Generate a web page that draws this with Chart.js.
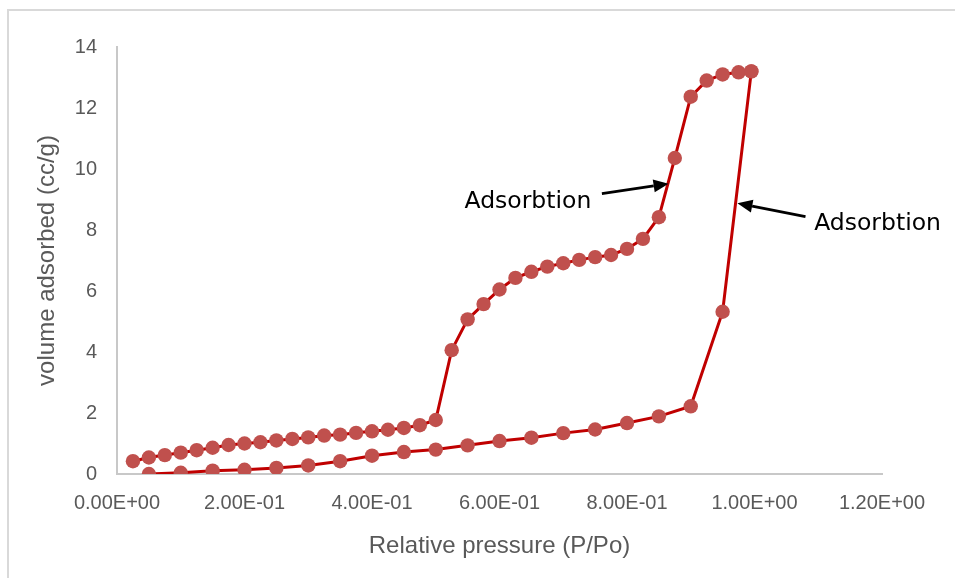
<!DOCTYPE html>
<html>
<head>
<meta charset="utf-8">
<script src="https://cdn.jsdelivr.net/npm/chart.js@4.4.1/dist/chart.umd.min.js"></script>
<style>
  html, body { margin: 0; padding: 0; background: #ffffff; }
  #wrap { width: 955px; height: 578px; }
</style>
</head>
<body>
<div id="wrap"><canvas id="c" width="955" height="578"></canvas></div>
<script>
// ---- data ----
const adsorptionX = [0.05, 0.10, 0.15, 0.20, 0.25, 0.30, 0.35, 0.40, 0.45, 0.50,
                     0.55, 0.60, 0.65, 0.70, 0.75, 0.80, 0.85, 0.90, 0.95, 0.995];
const adsorptionY = [0.00, 0.04, 0.11, 0.14, 0.20, 0.28, 0.42, 0.60, 0.72, 0.80,
                     0.94, 1.08, 1.19, 1.34, 1.46, 1.67, 1.89, 2.22, 5.32, 13.20];
const desorptionX = [0.995, 0.975, 0.95, 0.925, 0.90, 0.875, 0.85, 0.825, 0.80, 0.775,
                     0.75, 0.725, 0.70, 0.675, 0.65, 0.625, 0.60, 0.575, 0.55, 0.525,
                     0.50, 0.475, 0.45, 0.425, 0.40, 0.375, 0.35, 0.325, 0.30, 0.275,
                     0.25, 0.225, 0.20, 0.175, 0.15, 0.125, 0.10, 0.075, 0.05, 0.025];
const desorptionY = [13.20, 13.17, 13.10, 12.90, 12.37, 10.36, 8.42, 7.71, 7.38, 7.18,
                     7.11, 7.02, 6.91, 6.80, 6.63, 6.43, 6.05, 5.57, 5.07, 4.06,
                     1.77, 1.60, 1.51, 1.45, 1.40, 1.35, 1.29, 1.26, 1.20, 1.15,
                     1.10, 1.04, 1.00, 0.95, 0.86, 0.78, 0.70, 0.62, 0.54, 0.42];
const xTickValues = [0, 0.2, 0.4, 0.6, 0.8, 1.0, 1.2];
const yTickValues = [0, 2, 4, 6, 8, 10, 12, 14];
const annotationLabels = ["Adsorbtion", "Adsorbtion"];
// arrow anchors in data units: [tailX, tailY, tipX, tipY]
const arrowAnchors = [[0.7606, 9.19, 0.8652, 9.52], [1.080, 8.44, 0.9732, 8.88]];
// label anchors in data units: [x, baselineY, align]
const labelAnchors = [[0.7440, 8.735, 'right'], [1.0936, 7.99, 'left']];

function toPoints(xs, ys) { return xs.map((x, i) => ({ x: x, y: ys[i] })); }

function sciFormat(v) {
  const s = Number(v).toExponential(2).toUpperCase();   // e.g. 2.00E-1
  const m = s.match(/^(-?[\d.]+)E([+-])(\d+)$/);
  if (!m) return s;
  return m[1] + 'E' + m[2] + (m[3].length < 2 ? '0' + m[3] : m[3]);
}

const axisGrey = '#595959';
const lineRed = '#C00000';
const markerRed = '#C0504D';

const framePlugin = {
  id: 'frame',
  beforeDraw(chart) {
    const ctx = chart.ctx;
    ctx.save();
    ctx.fillStyle = '#ffffff';
    ctx.fillRect(0, 0, chart.width, chart.height);
    ctx.strokeStyle = '#D9D9D9';
    ctx.lineWidth = 2;
    ctx.strokeRect(8, 10, chart.width + 20, chart.height + 20);
    ctx.restore();
  }
};

const arrowPlugin = {
  id: 'arrows',
  afterDatasetsDraw(chart) {
    const ctx = chart.ctx;
    const xs = chart.scales.x, ys = chart.scales.y;
    ctx.save();
    arrowAnchors.forEach(a => {
      const x1 = xs.getPixelForValue(a[0]), y1 = ys.getPixelForValue(a[1]);
      const x2 = xs.getPixelForValue(a[2]), y2 = ys.getPixelForValue(a[3]);
      const ang = Math.atan2(y2 - y1, x2 - x1);
      const headLen = 15, headW = 6.5;
      const bx = x2 - headLen * Math.cos(ang), by = y2 - headLen * Math.sin(ang);
      ctx.strokeStyle = '#000000';
      ctx.lineWidth = 2.75;
      ctx.beginPath();
      ctx.moveTo(x1, y1);
      ctx.lineTo(bx, by);
      ctx.stroke();
      ctx.fillStyle = '#000000';
      ctx.beginPath();
      ctx.moveTo(x2, y2);
      ctx.lineTo(bx + headW * Math.sin(ang), by - headW * Math.cos(ang));
      ctx.lineTo(bx - headW * Math.sin(ang), by + headW * Math.cos(ang));
      ctx.closePath();
      ctx.fill();
    });
    ctx.font = '23.5px "DejaVu Sans"';
    ctx.fillStyle = '#000000';
    ctx.textBaseline = 'alphabetic';
    labelAnchors.forEach((l, i) => {
      ctx.textAlign = l[2];
      ctx.fillText(annotationLabels[i], xs.getPixelForValue(l[0]), ys.getPixelForValue(l[1]));
    });
    ctx.restore();
  }
};

const seriesStyle = {
  showLine: true,
  borderColor: lineRed,
  borderWidth: 3,
  backgroundColor: markerRed,
  pointBackgroundColor: markerRed,
  pointBorderColor: markerRed,
  pointBorderWidth: 0,
  pointRadius: 7.2,
  pointHoverRadius: 7.2,
  tension: 0
};

new Chart(document.getElementById('c'), {
  type: 'scatter',
  data: {
    datasets: [
      Object.assign({ label: 'Adsorption', data: toPoints(adsorptionX, adsorptionY) }, seriesStyle),
      Object.assign({ label: 'Desorption', data: toPoints(desorptionX, desorptionY) }, seriesStyle)
    ]
  },
  options: {
    responsive: false,
    animation: false,
    devicePixelRatio: 1,
    layout: { padding: { left: 10, top: 47, right: 73, bottom: 0 } },
    plugins: { legend: { display: false }, tooltip: { enabled: false } },
    scales: {
      x: {
        type: 'linear',
        min: xTickValues[0],
        max: xTickValues[xTickValues.length - 1],
        afterBuildTicks(scale) { scale.ticks = xTickValues.map(v => ({ value: v })); },
        afterFit(scale) { scale.height = 578 - 474; },
        ticks: {
          callback: v => sciFormat(v),
          color: axisGrey,
          font: { family: '"Liberation Sans", Arial, sans-serif', size: 20 },
          padding: 17,
          maxRotation: 0,
          autoSkip: false
        },
        grid: { display: false, drawTicks: false },
        border: { display: true, color: '#C8C8C8', width: 2 },
        title: {
          display: true,
          text: 'Relative pressure (P/Po)',
          color: axisGrey,
          font: { family: '"Liberation Sans", Arial, sans-serif', size: 24 },
          padding: { top: 0, bottom: 17.6 }
        }
      },
      y: {
        type: 'linear',
        min: yTickValues[0],
        max: yTickValues[yTickValues.length - 1],
        afterBuildTicks(scale) { scale.ticks = yTickValues.map(v => ({ value: v })); },
        afterFit(scale) { scale.width = 117 - 10; },
        ticks: {
          color: axisGrey,
          font: { family: '"Liberation Sans", Arial, sans-serif', size: 20 },
          padding: 20
        },
        grid: { display: false, drawTicks: false },
        border: { display: true, color: '#C8C8C8', width: 2 },
        title: {
          display: true,
          text: 'volume adsorbed (cc/g)',
          color: axisGrey,
          font: { family: '"Liberation Sans", Arial, sans-serif', size: 24 },
          padding: { top: 22.6, bottom: 0 }
        }
      }
    }
  },
  plugins: [framePlugin, arrowPlugin]
});
</script>
</body>
</html>
